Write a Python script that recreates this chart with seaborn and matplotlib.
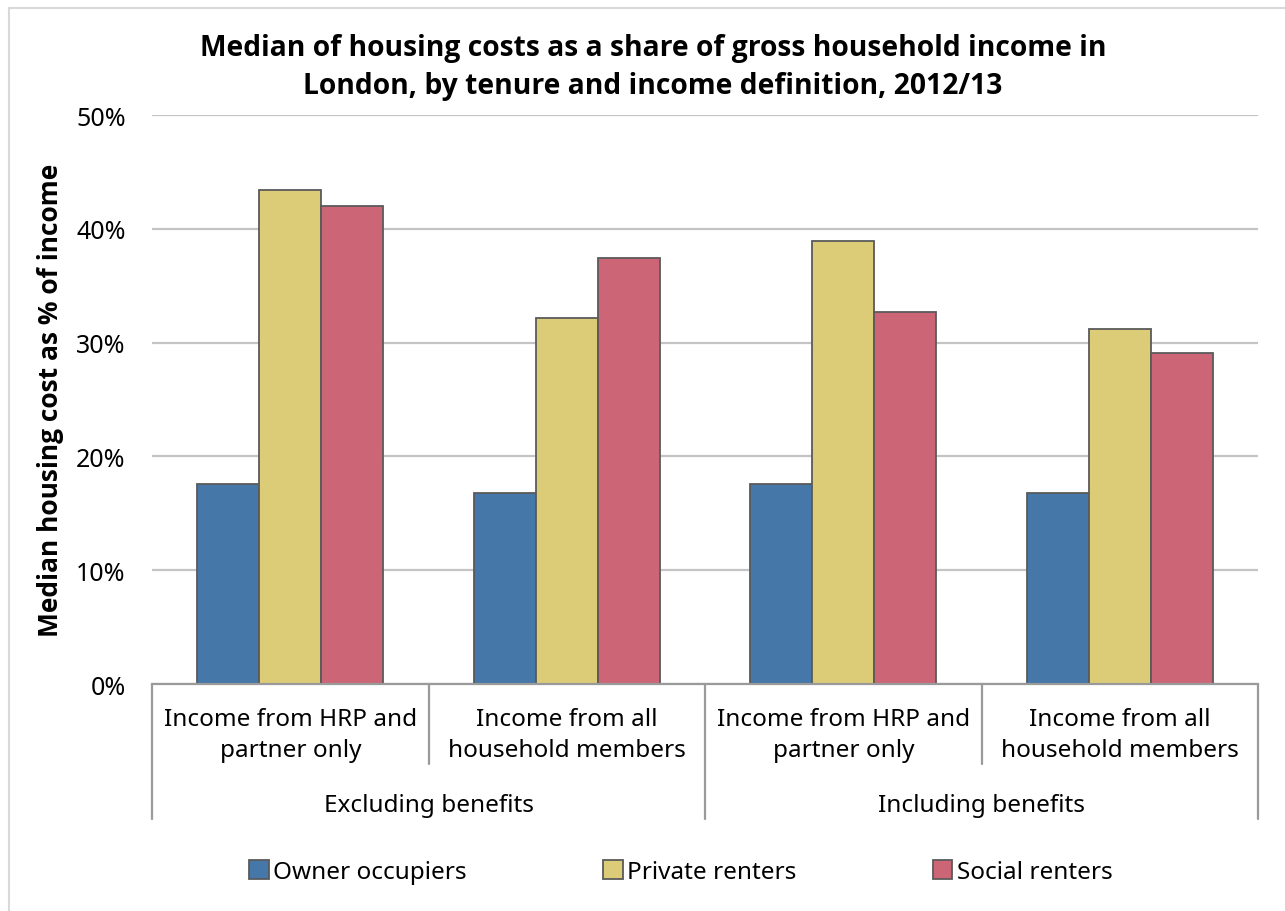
import numpy as np
import pandas as pd
import matplotlib
matplotlib.use("Agg")
import matplotlib.pyplot as plt
import matplotlib.transforms as mtransforms
from matplotlib.patches import Rectangle
import seaborn as sns

# data
income_defs = ["Income from HRP and\npartner only", "Income from all\nhousehold members",
               "Income from HRP and\npartner only", "Income from all\nhousehold members"]
benefit_groups = ["Excluding benefits", "Including benefits"]
tenures = ["Owner occupiers", "Private renters", "Social renters"]
owner = [17.6, 16.8, 17.6, 16.8]
private = [43.4, 32.2, 38.9, 31.2]
social = [42.0, 37.4, 32.7, 29.1]
colors = ["#4577A9", "#DCCC78", "#CC6677"]

keys = [f"g{i}" for i in range(len(income_defs))]
df = pd.DataFrame({
    "key": keys * 3,
    "tenure": np.repeat(tenures, len(keys)),
    "value": owner + private + social,
})

sns.set_theme(style="white")
plt.rcParams["font.family"] = ["Noto Sans", "DejaVu Sans"]
plt.rcParams["text.color"] = "#000000"
bold_font = ["Open Sans", "DejaVu Sans"]
fs = 17.5

fig = plt.figure(figsize=(12.85, 9.12), dpi=100)
ax = fig.add_axes([0.1183, 0.2489, 0.9790 - 0.1183, 0.8728 - 0.2489])

sns.barplot(data=df, x="key", y="value", hue="tenure", order=keys, hue_order=tenures,
            palette=colors, width=0.673, gap=0, edgecolor="#5a5a5a", linewidth=1.3,
            saturation=1, ax=ax, legend=True)

ax.set_ylim(0, 50)
ax.set_xlim(-0.5, len(keys) - 0.5)
ax.set_yticks(np.arange(0, 51, 10))
ax.set_yticklabels([f"{v}%" for v in range(0, 51, 10)], fontsize=18, color="#000000")
ax.yaxis.grid(True, color="#c4c4c4", linewidth=1.6)
ax.set_axisbelow(True)
ax.tick_params(axis="y", length=0, pad=19)
ax.set_xticks([])
ax.set_xlabel("")
ax.set_ylabel("Median housing cost as % of income", fontsize=19, fontweight="bold",
              family=bold_font, color="#000000")
ax.yaxis.set_label_coords(-0.080, 0.5)
for s in ["left", "right", "top"]:
    ax.spines[s].set_visible(False)
ax.spines["bottom"].set_color("#9a9a9a")
ax.spines["bottom"].set_linewidth(1.6)

# two-level category axis
trans = mtransforms.blended_transform_factory(ax.transData, ax.transAxes)
for i, lab in enumerate(income_defs):
    ax.text(i, -0.040, lab, transform=trans, ha="center", va="top", fontsize=fs,
            linespacing=1.38, color="#000000")
for j, lab in enumerate(benefit_groups):
    ax.text(2 * j + 0.5, -0.212, lab, transform=trans, ha="center", va="center",
            fontsize=fs, color="#000000")
for xs in np.arange(-0.5, len(keys), 1.0):
    bottom = -0.2373 if int(round(xs + 0.5)) % 2 == 0 else -0.1406
    ax.plot([xs, xs], [0, bottom], transform=trans, color="#9a9a9a", linewidth=1.6,
            clip_on=False)

fig.suptitle("Median of housing costs as a share of gross household income in\n"
             "London, by tenure and income definition, 2012/13",
             x=0.508, y=0.963, fontsize=20.3, fontweight="bold", family=bold_font,
             linespacing=1.42, color="#000000")

handles, labels = ax.get_legend_handles_labels()
ax.legend_.remove()
fig.legend(handles, labels, loc="center", bbox_to_anchor=(0.53, 0.043), ncol=3,
           frameon=False, fontsize=fs, handlelength=0.8, handleheight=0.8,
           handletextpad=0.2, columnspacing=5.6)

fig.patches.append(Rectangle((9 / 1285, -0.1), 1.2, 0.1 + (912 - 9) / 912,
                             transform=fig.transFigure, fill=False,
                             edgecolor="#d9d9d9", linewidth=1.5))

fig.savefig("out.png", dpi=100)
